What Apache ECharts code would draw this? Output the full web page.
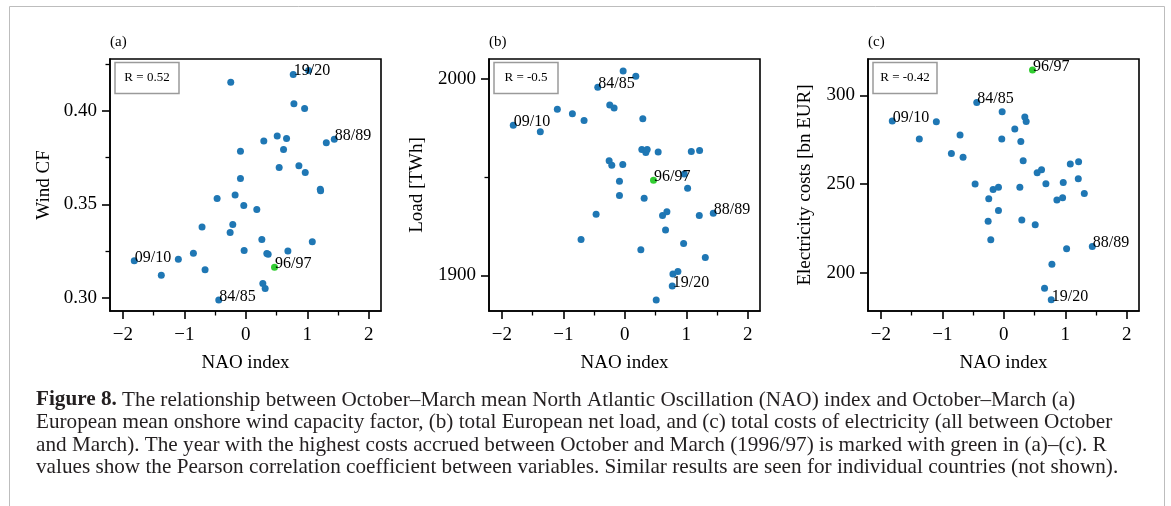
<!DOCTYPE html>
<html>
<head>
<meta charset="utf-8">
<script src="https://cdn.jsdelivr.net/npm/echarts@6/dist/echarts.min.js"></script>
<style>
  html, body { margin: 0; padding: 0; background: #fff; }
  #chart { width: 1171px; height: 506px; }
</style>
</head>
<body>
<div id="chart"></div>
<script>
// NAO index (Oct-Mar mean), one value per winter
const nao = [-1.815, -1.375, -1.098, -0.853, -0.712, -0.663, -0.467, -0.44, -0.255, -0.245,
  -0.212, -0.174, -0.087, -0.087, -0.033, -0.027, 0.179, 0.261, 0.277, 0.293,
  0.315, 0.342, 0.364, 0.467, 0.511, 0.543, 0.614, 0.663, 0.685, 0.772,
  0.783, 0.864, 0.957, 0.967, 1.022, 1.082, 1.212, 1.217, 1.31, 1.44]
const windCF = [0.3198, 0.3121, 0.3207, 0.3239, 0.3378, 0.3150, 0.3531, 0.2989, 0.3349, 0.4152,
  0.3392, 0.3549, 0.3783, 0.3638, 0.3494, 0.3253, 0.3472, 0.3312, 0.3077, 0.3838,
  0.3050, 0.3237, 0.3233, 0.3164, 0.3865, 0.3697, 0.3793, 0.3852, 0.3250, 0.4193,
  0.4037, 0.3706, 0.4012, 0.3670, 0.4215, 0.3300, 0.3580, 0.3572, 0.3829, 0.3848]
const load = [1976.6, 1973.2, 1984.7, 1982.4, 1918.3, 1979.0, 1931.2, 1995.9, 1958.5, 1986.8,
  1956.1, 1985.3, 1948.0, 1940.7, 1956.6, 2004.2, 2001.5, 1913.1, 1964.2, 1979.8,
  1939.3, 1962.7, 1964.2, 1948.5, 1887.5, 1962.9, 1930.5, 1923.2, 1932.5, 1894.6,
  1900.8, 1902.0, 1916.3, 1951.7, 1944.4, 1963.2, 1930.5, 1963.7, 1909.2, 1931.7]
const cost = [285.5, 275.3, 285.1, 267.2, 277.6, 265.0, 249.9, 296.0, 229.0, 241.6,
  218.5, 246.9, 248.2, 235.0, 275.3, 290.8, 281.0, 248.2, 274.0, 229.6,
  263.1, 287.8, 285.3, 314.3, 226.9, 256.3, 258.0, 191.1, 250.1, 184.6,
  204.7, 240.9, 242.2, 250.8, 213.4, 261.2, 252.9, 262.5, 244.6, 214.7]

const labelIndex = [0, 7, 23, 29, 39]
const labelText = ['09/10', '84/85', '96/97', '19/20', '88/89']
const greenIndex = 23 // 1996/97

const panelTags = ['(a)', '(b)', '(c)']
const rTexts = ['R = 0.52', 'R = -0.5', 'R = -0.42']
const yNames = ['Wind CF', 'Load [TWh]', 'Electricity costs [bn EUR]']
const xTicks = [-2, -1, 0, 1, 2]
const xMinorTicks = [-1.5, -0.5, 0.5, 1.5]
const yTicks = [[0.30, 0.35, 0.40], [1900, 2000], [200, 250, 300]]
const yMinorTicks = [[0.325, 0.375, 0.425], [1950], []]

const captionLines = [
  '{b|Figure 8.} The relationship between October–March mean North Atlantic Oscillation (NAO) index and October–March (a)',
  'European mean onshore wind capacity factor, (b) total European net load, and (c) total costs of electricity (all between October',
  'and March). The year with the highest costs accrued between October and March (1996/97) is marked with green in (a)–(c). R',
  'values show the Pearson correlation coefficient between variables. Similar results are seen for individual countries (not shown).'
]

const FONT = '"Liberation Serif", "Times New Roman", serif'
const panelY = [windCF, load, cost]
const yRange = [[0.293, 0.4276], [1881.9, 2010.3], [178.3, 320.5]]
const gridLeft = [110, 489, 868]
const nameGap = [56, 62, 53]

const chart = echarts.init(document.getElementById('chart'), null, { renderer: 'canvas' })

const grids = []
const xAxes = []
const yAxes = []
const series = []
const graphics = []

function minus(v) {
  return v < 0 ? '\u2212' + (-v) : String(v)
}

for (let p = 0; p < 3; p++) {
  grids.push({
    left: gridLeft[p], top: 59, width: 271, height: 252,
    show: true, borderColor: '#000', borderWidth: 1.6, backgroundColor: 'transparent'
  })
  // major x ticks + labels
  xAxes.push({
    gridIndex: p, type: 'value', min: -2.21, max: 2.2, position: 'bottom',
    name: 'NAO index', nameLocation: 'middle', nameGap: 43,
    nameTextStyle: { fontFamily: FONT, fontSize: 19, color: '#000' },
    axisLine: { show: true, onZero: false, lineStyle: { color: '#000', width: 1.6 } },
    axisTick: { show: true, length: 8, customValues: xTicks.slice(), lineStyle: { color: '#000', width: 1.6 } },
    axisLabel: { customValues: xTicks.slice(), formatter: minus, fontFamily: FONT, fontSize: 19, color: '#000', margin: 15 },
    splitLine: { show: false }
  })
  // minor x ticks
  xAxes.push({
    gridIndex: p, type: 'value', min: -2.21, max: 2.2, position: 'bottom',
    axisLine: { show: false, onZero: false },
    axisTick: { show: true, length: 4.5, customValues: xMinorTicks.slice(), lineStyle: { color: '#000', width: 1.3 } },
    axisLabel: { show: false },
    splitLine: { show: false }
  })
  yAxes.push({
    gridIndex: p, type: 'value', min: yRange[p][0], max: yRange[p][1], position: 'left',
    name: yNames[p], nameLocation: 'middle', nameGap: nameGap[p], nameRotate: 90,
    nameTextStyle: { fontFamily: FONT, fontSize: 19, color: '#000' },
    axisLine: { show: true, onZero: false, lineStyle: { color: '#000', width: 1.6 } },
    axisTick: { show: true, length: 8, customValues: yTicks[p].slice(), lineStyle: { color: '#000', width: 1.6 } },
    axisLabel: {
      customValues: yTicks[p].slice(),
      formatter: p === 0 ? v => v.toFixed(2) : v => String(v),
      fontFamily: FONT, fontSize: 19, color: '#000', margin: 13
    },
    splitLine: { show: false }
  })
  yAxes.push({
    gridIndex: p, type: 'value', min: yRange[p][0], max: yRange[p][1], position: 'left',
    axisLine: { show: false, onZero: false },
    axisTick: { show: yMinorTicks[p].length > 0, length: 4.5, customValues: yMinorTicks[p].slice(), lineStyle: { color: '#000', width: 1.3 } },
    axisLabel: { show: false },
    splitLine: { show: false }
  })

  const blue = []
  const green = []
  for (let i = 0; i < nao.length; i++) {
    const item = { value: [nao[i], panelY[p][i]] }
    const k = labelIndex.indexOf(i)
    if (k >= 0) {
      item.label = {
        show: true, formatter: labelText[k], position: [4, 8], align: 'left', verticalAlign: 'bottom',
        fontFamily: FONT, fontSize: 16, color: '#000'
      }
    }
    if (i === greenIndex) green.push(item)
    else blue.push(item)
  }
  series.push({
    type: 'scatter', xAxisIndex: 2 * p, yAxisIndex: 2 * p, data: blue,
    symbolSize: 7, itemStyle: { color: '#1f77b4', opacity: 1 }, z: 2
  })
  series.push({
    type: 'scatter', xAxisIndex: 2 * p, yAxisIndex: 2 * p, data: green,
    symbolSize: 7, itemStyle: { color: '#32cd32', opacity: 1 }, z: 3
  })

  // panel tag and R box
  graphics.push({
    type: 'text', left: gridLeft[p], top: 35,
    style: { text: panelTags[p], font: '15px ' + FONT, fill: '#000' }
  })
  graphics.push({
    type: 'rect', shape: { x: gridLeft[p] + 5, y: 62.5, width: 64, height: 31 },
    style: { fill: '#fff', stroke: '#9a9a9a', lineWidth: 1.5 }, z: 10
  })
  graphics.push({
    type: 'text', x: gridLeft[p] + 37, y: 78, z: 11,
    style: { text: rTexts[p], font: '13px ' + FONT, fill: '#000', align: 'center', verticalAlign: 'middle' }
  })
}

// outer frame of the figure
graphics.push({
  type: 'rect', shape: { x: 9.5, y: 6.5, width: 1155, height: 540 },
  style: { fill: 'none', stroke: '#bdbdbd', lineWidth: 1 }
})

const captionY = [400, 422.5, 445, 467.5]
captionLines.forEach((line, i) => {
  graphics.push({
    type: 'text', x: 36, y: captionY[i],
    style: {
      text: line, fontFamily: FONT, fontSize: 21.2, fill: '#231f20', verticalAlign: 'middle',
      rich: { b: { fontFamily: FONT, fontSize: 21.2, fontWeight: 'bold', fill: '#231f20' } }
    }
  })
})

chart.setOption({
  animation: false,
  backgroundColor: '#fff',
  grid: grids,
  xAxis: xAxes,
  yAxis: yAxes,
  series: series,
  graphic: graphics
})
</script>
</body>
</html>
